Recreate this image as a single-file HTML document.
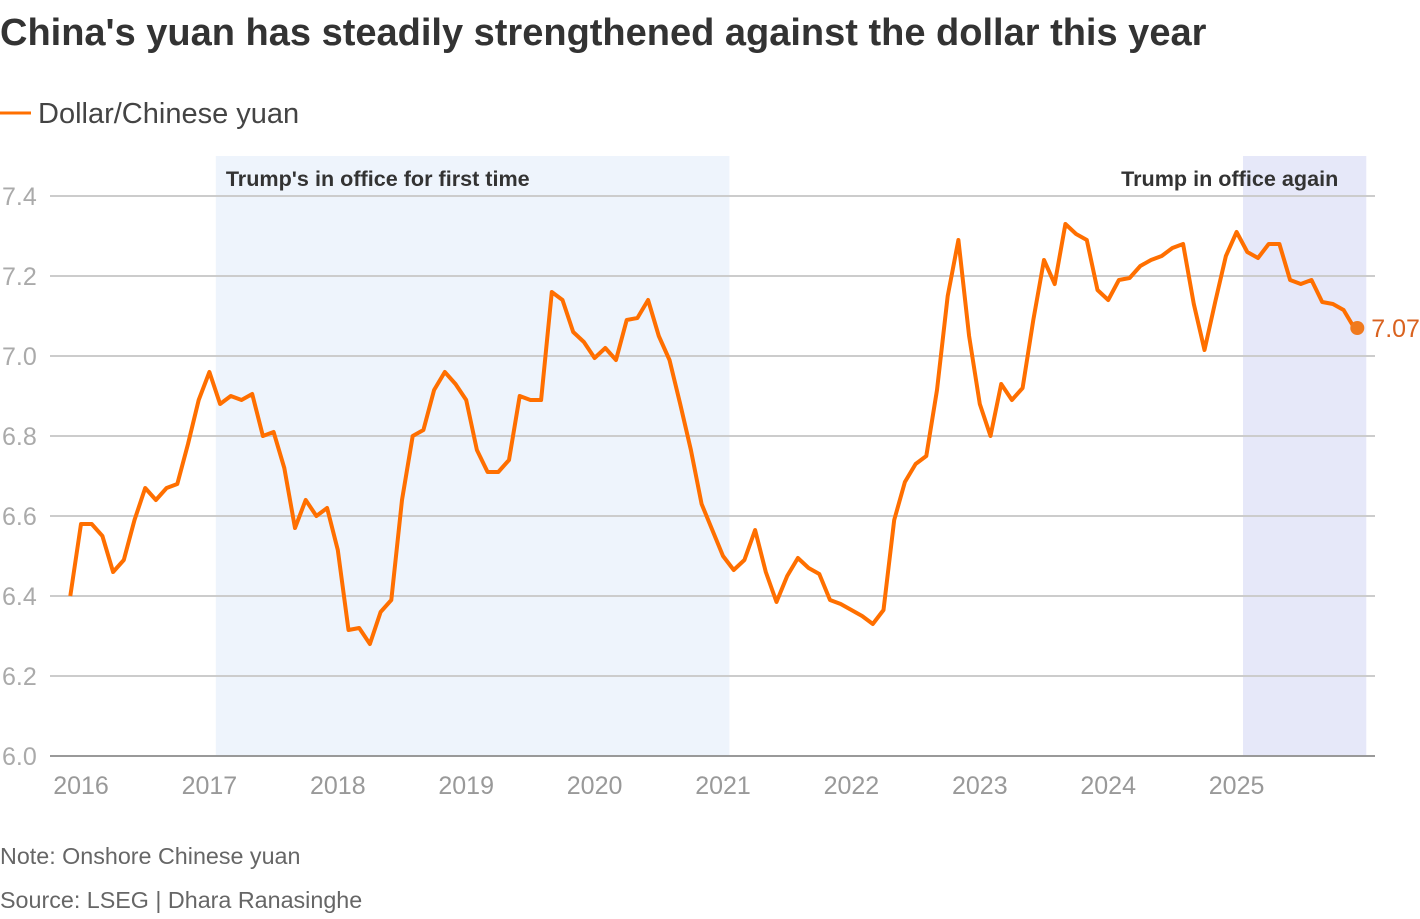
<!DOCTYPE html>
<html><head><meta charset="utf-8">
<style>
body{margin:0;background:#fff;width:1420px;height:914px;overflow:hidden;font-family:"Liberation Sans",sans-serif;}
</style></head>
<body>
<svg width="1420" height="914" viewBox="0 0 1420 914" xmlns="http://www.w3.org/2000/svg">
<text x="0" y="45" font-size="38" font-weight="bold" fill="#333">China's yuan has steadily strengthened against the dollar this year</text>
<line x1="0" y1="113" x2="31" y2="113" stroke="#ff6f00" stroke-width="3"/>
<text x="38" y="123" font-size="29" fill="#444">Dollar/Chinese yuan</text>
<g id="shades"></g>
<g id="grid"></g>
<g id="xaxis"></g>
<g id="series"></g>
<text x="0" y="864" font-size="23.3" fill="#666">Note: Onshore Chinese yuan</text>
<text x="0" y="908" font-size="23.3" fill="#666">Source: LSEG | Dhara Ranasinghe</text>
</svg>
<script>
const NS="http://www.w3.org/2000/svg";
const yTicks=[6.0,6.2,6.4,6.6,6.8,7.0,7.2,7.4];
const yTickLabels=["6.0","6.2","6.4","6.6","6.8","7.0","7.2","7.4"];
const xTicks=[2016,2017,2018,2019,2020,2021,2022,2023,2024,2025];
const shadeStarts=[2017.05,2025.05];
const shadeEnds=[2021.05,2026.01];
const shadeLabels=["Trump's in office for first time","Trump in office again"];
const startMonth=2015+11/12;
const values=[6.40,6.58,6.58,6.55,6.46,6.49,6.59,6.67,6.64,6.67,6.68,6.78,
6.89,6.96,6.88,6.90,6.89,6.905,6.80,6.81,6.72,6.57,6.64,6.60,
6.62,6.515,6.315,6.32,6.28,6.36,6.39,6.64,6.80,6.815,6.915,6.96,
6.93,6.89,6.765,6.71,6.71,6.74,6.90,6.89,6.89,7.16,7.14,7.06,
7.035,6.995,7.02,6.99,7.09,7.095,7.14,7.05,6.99,6.88,6.765,6.63,
6.565,6.50,6.465,6.49,6.565,6.46,6.385,6.45,6.495,6.47,6.455,6.39,
6.38,6.365,6.35,6.33,6.365,6.59,6.685,6.73,6.75,6.915,7.15,7.29,
7.05,6.88,6.80,6.93,6.89,6.92,7.09,7.24,7.18,7.33,7.305,7.29,
7.165,7.14,7.19,7.195,7.225,7.24,7.25,7.27,7.28,7.13,7.015,7.135,
7.25,7.31,7.26,7.245,7.28,7.28,7.19,7.18,7.19,7.135,7.13,7.115,7.07];
const dates=[];
for(let i=0;i<values.length;i++){dates.push(startMonth+i/12);}
const lastLabel="7.07";
function X(t){return 81+(t-2016)*128.4;}
function Y(v){return 756-(v-6)*400;}
function mk(tag,attrs,parent){const e=document.createElementNS(NS,tag);for(const k in attrs)e.setAttribute(k,attrs[k]);document.getElementById(parent).appendChild(e);return e;}
const fills=["#eef4fc","#e6e8f9"];
shadeStarts.forEach((s,i)=>{
 const r=mk("rect",{x:X(s),y:156,width:X(shadeEnds[i])-X(s),height:600,fill:fills[i]},"shades");
 
 
 const t=mk("text",{x:i==0?X(s)+10:X(shadeEnds[i])-28,y:186,"font-size":21.6,"font-weight":"bold",fill:"#333","text-anchor":i==0?"start":"end"},"shades");
 t.textContent=shadeLabels[i];
 
 
});
yTicks.forEach((v,i)=>{
 const l=mk("line",{x1:50,x2:1375,y1:Y(v),y2:Y(v),stroke:i==0?"#999":"#ccc","stroke-width":2},"grid");
 
 
 const t=mk("text",{x:2,y:Y(v)+9,"font-size":25,fill:"#aaa"},"grid");
 t.textContent=yTickLabels[i];
 
 
});
xTicks.forEach(y=>{
 const t=mk("text",{x:X(y),y:794,"font-size":25,fill:"#999","text-anchor":"middle"},"xaxis");
 t.textContent=String(y);
 
 
});
const d=values.map((v,i)=>(i?"L":"M")+X(dates[i]).toFixed(1)+","+Y(v).toFixed(1)).join("");
const p=mk("path",{d:d,fill:"none",stroke:"#ff6f00","stroke-width":4,"stroke-linejoin":"round"},"series");


const n=values.length-1;
const c=mk("circle",{cx:X(dates[n])+3,cy:Y(values[n]),r:7,fill:"#f07a1e"},"series");


const lt=mk("text",{x:X(dates[n])+17,y:Y(values[n])+9,"font-size":25,fill:"#d9621f"},"series");
lt.textContent=lastLabel;


</script>
</body></html>
